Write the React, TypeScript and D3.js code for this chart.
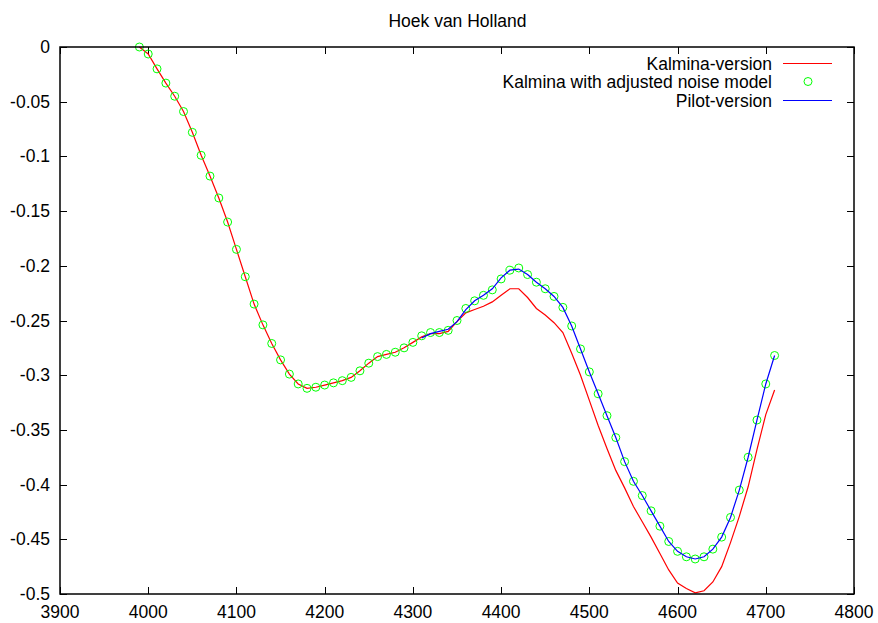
import { useEffect, useRef } from 'react'
import * as d3 from 'd3'

const title = 'Hoek van Holland'

const xTicks = [3900, 4000, 4100, 4200, 4300, 4400, 4500, 4600, 4700, 4800]
const yTicks = [0, -0.05, -0.1, -0.15, -0.2, -0.25, -0.3, -0.35, -0.4, -0.45, -0.5]

// Kalmina with adjusted noise model (green circles), 3990..4710 step 10
const adjustedX = [
  3990, 4000, 4010, 4020, 4030, 4040, 4050, 4060, 4070, 4080, 4090, 4100, 4110, 4120,
  4130, 4140, 4150, 4160, 4170, 4180, 4190, 4200, 4210, 4220, 4230, 4240, 4250, 4260,
  4270, 4280, 4290, 4300, 4310, 4320, 4330, 4340, 4350, 4360, 4370, 4380, 4390, 4400,
  4410, 4420, 4430, 4440, 4450, 4460, 4470, 4480, 4490, 4500, 4510, 4520, 4530, 4540,
  4550, 4560, 4570, 4580, 4590, 4600, 4610, 4620, 4630, 4640, 4650, 4660, 4670, 4680,
  4690, 4700, 4710
]
const adjustedY = [
  0, -0.0064, -0.02, -0.033, -0.045, -0.059, -0.078, -0.099, -0.118, -0.138, -0.16, -0.185, -0.21, -0.235,
  -0.254, -0.271, -0.286, -0.299, -0.308, -0.312, -0.311, -0.309, -0.307, -0.305, -0.302, -0.296, -0.289, -0.283,
  -0.281, -0.279, -0.275, -0.27, -0.264, -0.261, -0.261, -0.259, -0.25, -0.239, -0.232, -0.227, -0.222, -0.212,
  -0.204, -0.202, -0.208, -0.215, -0.221, -0.228, -0.238, -0.255, -0.276, -0.297, -0.317, -0.337, -0.357, -0.379,
  -0.397, -0.41, -0.424, -0.438, -0.452, -0.461, -0.466, -0.468, -0.466, -0.459, -0.448, -0.43, -0.405, -0.375,
  -0.341, -0.308, -0.282
]

// Kalmina-version (red line)
const kalminaX = adjustedX
const kalminaY = [
  0, -0.0064, -0.02, -0.033, -0.045, -0.059, -0.078, -0.099, -0.118, -0.138, -0.16, -0.185, -0.21, -0.235,
  -0.254, -0.271, -0.286, -0.299, -0.308, -0.312, -0.311, -0.309, -0.307, -0.305, -0.302, -0.296, -0.289, -0.283,
  -0.281, -0.279, -0.275, -0.27, -0.265, -0.262, -0.262, -0.26, -0.251, -0.243, -0.24, -0.237, -0.233, -0.227,
  -0.221, -0.221, -0.229, -0.239, -0.245, -0.252, -0.261, -0.28, -0.3, -0.323, -0.346, -0.367, -0.387, -0.403,
  -0.42, -0.434, -0.448, -0.463, -0.478, -0.49, -0.495, -0.499, -0.497, -0.489, -0.475, -0.453, -0.429, -0.402,
  -0.368, -0.336, -0.3135
]

// Pilot-version (blue line)
const pilotX = [
  4310, 4320, 4330, 4340, 4350, 4360, 4370, 4380, 4390, 4400, 4410, 4420, 4430, 4440,
  4450, 4460, 4470, 4480, 4490, 4500, 4510, 4520, 4530, 4540, 4550, 4560, 4570, 4580,
  4590, 4600, 4610, 4620, 4630, 4640, 4650, 4660, 4670, 4680, 4690, 4700, 4710
]
const pilotY = [
  -0.266, -0.262, -0.26, -0.258, -0.251, -0.24, -0.232, -0.227, -0.221, -0.211,
  -0.204, -0.203, -0.208, -0.215, -0.221, -0.228, -0.238, -0.255, -0.276, -0.297,
  -0.317, -0.337, -0.357, -0.379, -0.397, -0.41, -0.424, -0.438, -0.452, -0.461,
  -0.466, -0.468, -0.466, -0.459, -0.448, -0.43, -0.405, -0.375, -0.341, -0.308, -0.282
]

const legendLabels = ['Kalmina-version', 'Kalmina with adjusted noise model', 'Pilot-version']

const FONT = '"Liberation Sans", Arial, Helvetica, sans-serif'
const FONT_SIZE = '17.5px'

export default function App() {
  const svgRef = useRef<SVGSVGElement>(null)

  useEffect(() => {
    if (!svgRef.current) return
    const svg = d3.select(svgRef.current)
    svg.selectAll('*').remove()

    const width = 878
    const height = 623
    const margin = { top: 47, right: 24, bottom: 29, left: 60 }

    const x = d3.scaleLinear().domain([3900, 4800]).range([margin.left, width - margin.right])
    const y = d3.scaleLinear().domain([-0.5, 0]).range([height - margin.bottom, margin.top])

    svg.append('rect').attr('width', width).attr('height', height).attr('fill', '#fff')

    // Title
    svg.append('text')
      .attr('x', (margin.left + width - margin.right) / 2 + 0.5)
      .attr('y', 27)
      .attr('text-anchor', 'middle')
      .style('font-family', FONT)
      .style('font-size', FONT_SIZE)
      .text(title)

    const tickLen = 7
    const axes = svg.append('g').attr('stroke', '#000').attr('stroke-width', 1)

    // ticks on all four sides (mirrored)
    xTicks.forEach(t => {
      const px = Math.round(x(t)) + 0.5
      axes.append('line').attr('x1', px).attr('x2', px)
        .attr('y1', y(-0.5)).attr('y2', y(-0.5) - tickLen)
      axes.append('line').attr('x1', px).attr('x2', px)
        .attr('y1', y(0)).attr('y2', y(0) + tickLen)
      svg.append('text')
        .attr('x', x(t))
        .attr('y', 618)
        .attr('text-anchor', 'middle')
        .style('font-family', FONT)
        .style('font-size', FONT_SIZE)
        .text(String(t))
    })

    yTicks.forEach(t => {
      const py = Math.round(y(t)) + 0.5
      axes.append('line').attr('x1', x(3900)).attr('x2', x(3900) + tickLen)
        .attr('y1', py).attr('y2', py)
      axes.append('line').attr('x1', x(4800)).attr('x2', x(4800) - tickLen)
        .attr('y1', py).attr('y2', py)
      svg.append('text')
        .attr('x', 50)
        .attr('y', y(t) + 6)
        .attr('text-anchor', 'end')
        .style('font-family', FONT)
        .style('font-size', FONT_SIZE)
        .text(t === 0 ? '0' : String(t))
    })

    // Series
    const line = d3.line<[number, number]>()
      .x(d => x(d[0]))
      .y(d => y(d[1]))

    const kalmina: [number, number][] = kalminaX.map((v, i) => [v, kalminaY[i]])
    const adjusted: [number, number][] = adjustedX.map((v, i) => [v, adjustedY[i]])
    const pilot: [number, number][] = pilotX.map((v, i) => [v, pilotY[i]])

    svg.append('path')
      .datum(kalmina)
      .attr('fill', 'none')
      .attr('stroke', '#ff0000')
      .attr('stroke-width', 1.2)
      .attr('d', line)

    svg.append('g')
      .selectAll('circle')
      .data(adjusted)
      .join('circle')
      .attr('cx', d => x(d[0]))
      .attr('cy', d => y(d[1]))
      .attr('r', 4)
      .attr('fill', 'none')
      .attr('stroke', '#00ff00')
      .attr('stroke-width', 1)

    svg.append('path')
      .datum(pilot)
      .attr('fill', 'none')
      .attr('stroke', '#0000ff')
      .attr('stroke-width', 1.2)
      .attr('d', line)

    // Frame
    svg.append('rect')
      .attr('x', x(3900))
      .attr('y', y(0))
      .attr('width', x(4800) - x(3900))
      .attr('height', y(-0.5) - y(0))
      .attr('fill', 'none')
      .attr('stroke', '#000')
      .attr('stroke-width', 1.5)

    // Legend
    const legendY = [63.5, 81.5, 100.5]
    legendLabels.forEach((label, i) => {
      svg.append('text')
        .attr('x', 772)
        .attr('y', legendY[i] + 6)
        .attr('text-anchor', 'end')
        .style('font-family', FONT)
        .style('font-size', FONT_SIZE)
        .text(label)
    })
    svg.append('line')
      .attr('x1', 783).attr('x2', 832)
      .attr('y1', legendY[0]).attr('y2', legendY[0])
      .attr('stroke', '#ff0000').attr('stroke-width', 1)
    svg.append('circle')
      .attr('cx', 808).attr('cy', legendY[1])
      .attr('r', 4)
      .attr('fill', 'none')
      .attr('stroke', '#00ff00')
    svg.append('line')
      .attr('x1', 783).attr('x2', 832)
      .attr('y1', legendY[2]).attr('y2', legendY[2])
      .attr('stroke', '#0000ff').attr('stroke-width', 1)
  }, [])

  return (
    <svg
      ref={svgRef}
      width={878}
      height={623}
      style={{ position: 'absolute', left: 0, top: 0, display: 'block' }}
    />
  )
}
